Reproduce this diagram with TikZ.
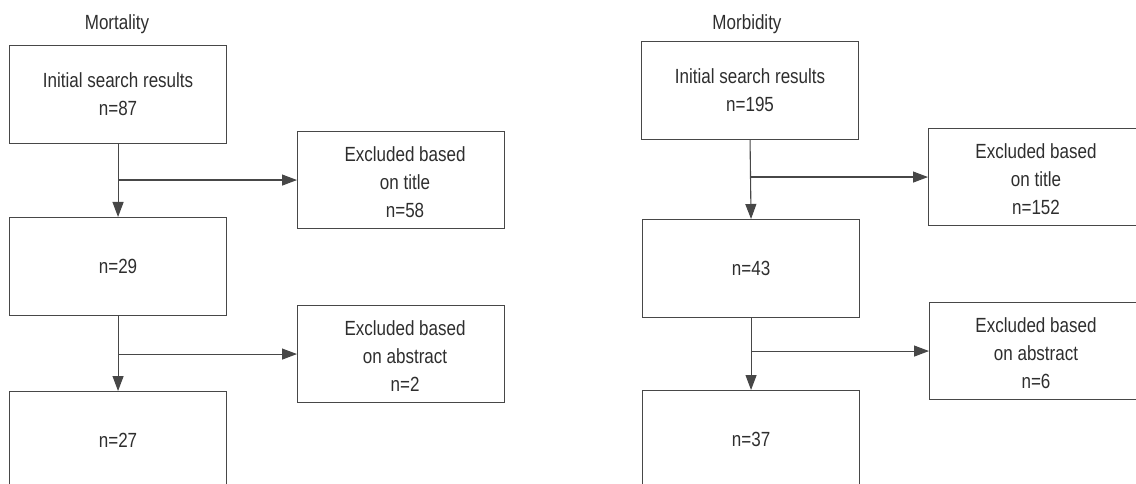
\documentclass[tikz,border=0pt]{standalone}
\usepackage{fontspec}
\setmainfont{Liberation Sans}[FakeStretch=0.83]
\usetikzlibrary{arrows.meta}
\begin{document}
\begin{tikzpicture}[x=1pt,y=-1pt,
  box/.style={draw=black!72, line width=1.1pt, anchor=north west, inner sep=0pt,
    text=black!82, align=center, font=\fontsize{20.5}{28}\selectfont},
  mainbox/.style={box, minimum width=217pt, minimum height=98pt},
  exclbox/.style={box, minimum width=207pt, minimum height=97pt},
  wide/.style={minimum width=240pt},
  lbl/.style={text=black!82, align=center, font=\fontsize{20.5}{28}\selectfont},
  title/.style={anchor=base, text=black!82, font=\fontsize{20.5}{28}\selectfont},
  flow/.style={draw=black!72, line width=1.1pt},
  arr/.style={flow, -{Triangle[length=15pt,width=11pt]}}]
\useasboundingbox (0,0) rectangle (1136,484);
\clip (0,0) rectangle (1136,484);
% ---------------- Mortality ----------------
\node[title] (tL) at (117,30) {Mortality};
\node[mainbox] (L1) at (9,45) {Initial search results\\n=87};
\node[exclbox, label={[lbl, xshift=4pt, yshift=-2pt]center:Excluded based\\on title\\n=58}] (LE1) at (297,131) {};
\node[mainbox] (L2) at (9,217) {n=29};
\node[exclbox, label={[lbl, xshift=4pt, yshift=-2pt]center:Excluded based\\on abstract\\n=2}] (LE2) at (297,305) {};
\node[mainbox] (L3) at (9,391) {n=27};
\draw[arr] (L1.south) -- (L2.north);
\draw[arr] (L1.south |- LE1.west) -- (LE1.west);
\draw[arr] (L2.south) -- (L3.north);
\draw[arr] (L2.south |- LE2.west) -- (LE2.west);
% ---------------- Morbidity ----------------
\node[title] (tR) at (747,30) {Morbidity};
\node[mainbox] (R1) at (641,41) {Initial search results\\n=195};
\node[exclbox, wide] (RE1) at (928,128) {};
\node[lbl, yshift=-2pt] (RE1t) at (1036,177) {Excluded based\\on title\\n=152};
\node[mainbox] (R2) at (642,219) {n=43};
\node[exclbox, wide] (RE2) at (929,302) {};
\node[lbl, yshift=-2pt] (RE2t) at (1036,351) {Excluded based\\on abstract\\n=6};
\node[mainbox] (R3) at (642,390) {n=37};
\draw[arr] (R1.south) -- (R2.north);
\draw[arr] (R1.south |- RE1.west) -- (RE1.west);
\draw[arr] (R2.south) -- (R3.north);
\draw[arr] (R2.south |- RE2.west) -- (RE2.west);
\end{tikzpicture}
\end{document}
